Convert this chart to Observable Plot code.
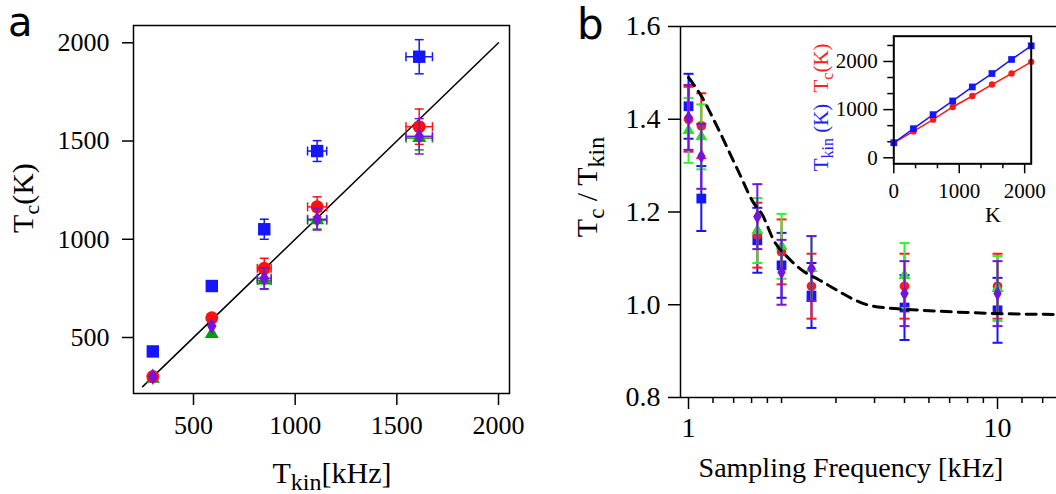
<!DOCTYPE html>
<html><head><meta charset="utf-8">
<script src="https://cdn.jsdelivr.net/npm/d3@7"></script>
<script src="https://cdn.jsdelivr.net/npm/@observablehq/plot@0.6"></script>
<style>
html,body{margin:0;padding:0;background:#fff;}
#wrap{position:relative;width:1056px;height:494px;overflow:hidden;background:#fff;}
#wrap svg{position:absolute;}
</style></head><body><div id="wrap"></div>
<script>
// ---------- Panel a data ----------
const tkinA = [300, 590, 848, 1108, 1610];
const tcBlueA = [429, 762, 1051, 1449, 1929];
const tcRedA = [301, 600, 852, 1165, 1573];
const tcGreenA = [290, 518, 790, 1097, 1515];
const tcPurpleA = [300, 558, 801, 1102, 1524];
const yErrBlueA = [0, 0, 51, 53, 87];
const xErrBlueA = [0, 0, 0, 47, 65];
const yErrRedA = [0, 0, 51, 51, 90];
const xErrRedA = [0, 0, 34, 47, 65];
const yErrGreenA = [0, 0, 45, 45, 60];
const xErrGreenA = [0, 0, 34, 47, 65];
const yErrPurpleA = [0, 0, 53, 55, 90];
const xErrPurpleA = [0, 0, 34, 47, 65];
const diagA = [250, 2000];
const ticksA = [500, 1000, 1500, 2000];

// ---------- Panel b data ----------
const freqB = [1, 1.1, 1.67, 2, 2.5, 5, 10];
const blueB = [1.428, 1.229, 1.139, 1.085, 1.020, 0.994, 0.988];
const redB = [1.400, 1.386, 1.150, 1.114, 1.040, 1.040, 1.040];
const greenB = [1.376, 1.362, 1.160, 1.126, 1.078, 1.063, 1.035];
const purpleB = [1.404, 1.320, 1.190, 1.070, 1.078, 1.024, 1.024];
const errBlueB = [0.07, 0.07, 0.07, 0.07, 0.07, 0.07, 0.07];
const errRedB = [0.07, 0.07, 0.07, 0.07, 0.07, 0.07, 0.07];
const errGreenB = [0.07, 0.07, 0.07, 0.07, 0.07, 0.07, 0.07];
const errPurpleB = [0.07, 0.07, 0.07, 0.07, 0.07, 0.07, 0.07];
const curveX = [1, 1.1, 1.24, 1.44, 1.63, 1.73, 1.89, 2.11, 2.42, 2.64, 3.1, 3.39, 3.79, 4.4, 5.1, 6.5, 10, 15.5];
const curveY = [1.49, 1.45, 1.383, 1.292, 1.218, 1.195, 1.138, 1.10, 1.067, 1.054, 1.027, 1.013, 1.0, 0.993, 0.99, 0.986, 0.981, 0.979];
const yTicksB = [0.8, 1.0, 1.2, 1.4, 1.6];
const xTicksBMajor = [1, 10];
const xTicksBMinor = [1.2, 1.4, 1.6, 1.8, 2, 3, 4, 5, 6, 7, 8, 9, 12, 14];
const xDomainB = [0.942, 15.52];

// ---------- Inset data ----------
const insetK = [0, 300, 600, 900, 1200, 1500, 1800, 2100];
const insetTkin = [312, 604, 896, 1180, 1471, 1750, 2042, 2325];
const insetTc = [312, 548, 792, 1055, 1283, 1521, 1750, 1992];
const insetMajor = [0, 1000, 2000];
const insetMinorX = [333, 667, 1333, 1667];
const insetMinorY = [333, 667, 1333, 1667, 2333];

// ---------- helpers ----------
const SERIF = "'Liberation Serif', 'Times New Roman', serif";
const H = 494;
const hcap = {draw(ctx, size) { const w = Math.sqrt(size / Math.PI); ctx.moveTo(-w, 0); ctx.lineTo(w, 0); }};
const vcap = {draw(ctx, size) { const w = Math.sqrt(size / Math.PI); ctx.moveTo(0, -w); ctx.lineTo(0, w); }};

function seriesMarks(rows, s, opt) {
  const ey = rows.filter(d => d.ey > 0);
  const ex = rows.filter(d => d.ex > 0);
  const sw = opt.sw, c = s.errColor || s.color;
  return [
    Plot.ruleX(ey, {x: "x", y1: d => d.y - d.ey, y2: d => d.y + d.ey, stroke: c, strokeWidth: sw}),
    Plot.dot(ey, {x: "x", y: d => d.y - d.ey, symbol: hcap, r: opt.cap, stroke: c, fill: "none", strokeWidth: sw}),
    Plot.dot(ey, {x: "x", y: d => d.y + d.ey, symbol: hcap, r: opt.cap, stroke: c, fill: "none", strokeWidth: sw}),
    Plot.ruleY(ex, {y: "y", x1: d => d.x - d.ex, x2: d => d.x + d.ex, stroke: c, strokeWidth: sw}),
    Plot.dot(ex, {x: d => d.x - d.ex, y: "y", symbol: vcap, r: opt.cap, stroke: c, fill: "none", strokeWidth: sw}),
    Plot.dot(ex, {x: d => d.x + d.ex, y: "y", symbol: vcap, r: opt.cap, stroke: c, fill: "none", strokeWidth: sw}),
    Plot.dot(rows, {x: "x", y: "y", symbol: s.symbol, r: s.r, fill: s.color, stroke: "none"})
  ];
}

function addText(svg, {x, y, rotate = 0, anchor = "middle", size, family = SERIF, fill = "black", parts}) {
  const t = d3.select(svg).append("text")
    .attr("transform", `translate(${x},${y}) rotate(${rotate})`)
    .attr("text-anchor", anchor)
    .attr("font-family", family)
    .attr("font-size", size)
    .attr("fill", fill);
  let shift = 0;
  for (const p of parts) {
    const sp = t.append("tspan").text(p.t);
    const target = p.sub ? p.sub : 0;
    if (target !== shift) { sp.attr("dy", target - shift); shift = target; }
    if (p.size) sp.attr("font-size", p.size);
  }
  return t;
}

const wrap = document.getElementById("wrap");

// ---------- Panel a ----------
const seriesA = [
  {name: "blue", color: "#1515ff", symbol: "square", r: 7, tc: tcBlueA, ey: yErrBlueA, ex: xErrBlueA},
  {name: "green", color: "#00a000", symbol: "triangle", r: 5.2, tc: tcGreenA, ey: yErrGreenA, ex: xErrGreenA},
  {name: "red", color: "#ff1010", symbol: "circle", r: 6.5, tc: tcRedA, ey: yErrRedA, ex: xErrRedA},
  {name: "purple", color: "#7414dc", symbol: "diamond", r: 5, tc: tcPurpleA, ey: yErrPurpleA, ex: xErrPurpleA}
];
const marksA = [];
for (const s of seriesA) {
  const rows = tkinA.map((x, i) => ({x, y: s.tc[i], ey: s.ey[i], ex: s.ex[i]}));
  marksA.push(...seriesMarks(rows, s, {sw: 1.5, cap: 4.5}));
}
const plotA = Plot.plot({
  width: 540, height: H,
  marginLeft: 133, marginRight: 31, marginTop: 25, marginBottom: H - 393,
  x: {type: "linear", domain: [205, 2054]},
  y: {type: "linear", domain: [215, 2088]},
  style: {fontFamily: SERIF, fontSize: "26px", color: "black", background: "white"},
  marks: [
    Plot.axisX({ticks: ticksA, tickSize: 12, tickPadding: 10, strokeWidth: 1.5, tickFormat: d => String(d), label: null, fontSize: 26}),
    Plot.axisY({ticks: ticksA, tickSize: 11, tickPadding: 13, strokeWidth: 1.5, tickFormat: d => String(d), label: null, fontSize: 26}),
    Plot.line(diagA, {x: d => d, y: d => d, stroke: "black", strokeWidth: 1.5}),
    ...marksA,
    Plot.frame({stroke: "black", strokeWidth: 1.5})
  ]
});
plotA.style.left = "0px"; plotA.style.top = "0px";
wrap.appendChild(plotA);
addText(plotA, {x: 8, y: 36, anchor: "start", size: 40, family: "'DejaVu Sans', sans-serif", parts: [{t: "a"}]});
addText(plotA, {x: 33, y: 198, rotate: -90, size: 30, parts: [{t: "T"}, {t: "c", sub: 6, size: 22}, {t: "(K)", sub: 0}]});
addText(plotA, {x: 332, y: 483, size: 30, parts: [{t: "T"}, {t: "kin", sub: 7, size: 24}, {t: "[kHz]", sub: 0}]});

// ---------- Panel b ----------
const seriesB = [
  {name: "blue", color: "#1515ff", symbol: "square", r: 5.5, v: blueB, e: errBlueB},
  {name: "red", color: "#ff1818", symbol: "circle", r: 4.8, v: redB, e: errRedB},
  {name: "green", color: "#30e030", errColor: "#30f030", symbol: "triangle", r: 4.5, v: greenB, e: errGreenB},
  {name: "purple", color: "#7414dc", symbol: "diamond", r: 4.4, v: purpleB, e: errPurpleB}
];
const marksB = [];
for (const s of seriesB) {
  const rows = freqB.map((x, i) => ({x, y: s.v[i], ey: s.e[i], ex: 0}));
  marksB.push(...seriesMarks(rows, s, {sw: 2, cap: 5}));
}
const curveRows = curveX.map((x, i) => ({x, y: curveY[i]}));
const plotB = Plot.plot({
  width: 516, height: H,
  marginLeft: 140, marginRight: 0, marginTop: 26, marginBottom: H - 397,
  x: {type: "log", domain: xDomainB},
  y: {type: "linear", domain: [0.8, 1.6]},
  style: {fontFamily: SERIF, fontSize: "28px", color: "black", background: "white"},
  marks: [
    Plot.ruleY([1.6], {stroke: "black", strokeWidth: 1.5}),
    Plot.ruleY([0.8], {stroke: "black", strokeWidth: 1.5}),
    Plot.ruleX([xDomainB[0]], {stroke: "black", strokeWidth: 1.5}),
    Plot.axisY({ticks: yTicksB, tickSize: 12, tickPadding: 8, strokeWidth: 1.5, tickFormat: d => d.toFixed(1), label: null, fontSize: 28}),
    Plot.axisX({ticks: xTicksBMajor, tickSize: 12, tickPadding: 8, strokeWidth: 1.5, tickFormat: d => String(d), label: null, fontSize: 28}),
    Plot.axisX({ticks: xTicksBMinor, tickSize: 6, tickPadding: 2, strokeWidth: 1.5, tickFormat: () => "", label: null}),
    ...marksB,
    Plot.line(curveRows, {x: "x", y: "y", stroke: "black", strokeWidth: 3, strokeDasharray: "10,7", curve: "monotone-x"})
  ]
});
plotB.style.left = "540px"; plotB.style.top = "0px";
wrap.appendChild(plotB);
addText(plotB, {x: 37, y: 39, anchor: "start", size: 42, family: "'DejaVu Sans', sans-serif", parts: [{t: "b"}]});
addText(plotB, {x: 57, y: 187, rotate: -90, size: 30, parts: [{t: "T"}, {t: "c", sub: 7, size: 23}, {t: " / T", sub: 0}, {t: "kin", sub: 7, size: 24}]});
addText(plotB, {x: 311, y: 477, size: 28, parts: [{t: "Sampling Frequency [kHz]"}]});

// ---------- Inset ----------
const insetTkinRows = insetK.map((x, i) => ({x, y: insetTkin[i]}));
const insetTcRows = insetK.map((x, i) => ({x, y: insetTc[i]}));
const plotI = Plot.plot({
  width: 266, height: 210,
  marginLeft: 103.3, marginRight: 25.3, marginTop: 15.7, marginBottom: 66.7,
  x: {type: "linear", domain: [0, 2100]},
  y: {type: "linear", domain: [-125, 2525]},
  style: {fontFamily: SERIF, fontSize: "21px", color: "black", background: "transparent"},
  marks: [
    Plot.axisX({ticks: insetMajor, tickSize: 10, tickPadding: 9, strokeWidth: 1.5, tickFormat: d => String(d), label: null, fontSize: 21}),
    Plot.axisX({ticks: insetMinorX, tickSize: 5, strokeWidth: 1.5, tickFormat: () => "", label: null}),
    Plot.axisY({ticks: insetMajor, tickSize: 10, tickPadding: 6, strokeWidth: 1.5, tickFormat: d => String(d), label: null, fontSize: 21}),
    Plot.axisY({ticks: insetMinorY, tickSize: 6, strokeWidth: 1.5, tickFormat: () => "", label: null}),
    Plot.line(insetTcRows, {x: "x", y: "y", stroke: "#ff1818", strokeWidth: 1.5}),
    Plot.dot(insetTcRows, {x: "x", y: "y", r: 3.2, fill: "#ff1818"}),
    Plot.line(insetTkinRows, {x: "x", y: "y", stroke: "#1515ff", strokeWidth: 1.5}),
    Plot.dot(insetTkinRows, {x: "x", y: "y", symbol: "square", r: 3.8, fill: "#1515ff"}),
    Plot.frame({stroke: "black", strokeWidth: 2})
  ]
});
plotI.style.left = "790px"; plotI.style.top = "20px";
wrap.appendChild(plotI);
addText(plotI, {x: 38, y: 48, rotate: -90, size: 21, fill: "#ff2020", parts: [{t: "T"}, {t: "c", sub: 5, size: 16}, {t: "(K)", sub: 0}]});
addText(plotI, {x: 38, y: 117.5, rotate: -90, size: 21, fill: "#2020ff", parts: [{t: "T"}, {t: "kin", sub: 5, size: 16}, {t: " (K)", sub: 0}]});
addText(plotI, {x: 203, y: 201.7, size: 22, parts: [{t: "K"}]});
</script></body></html>
